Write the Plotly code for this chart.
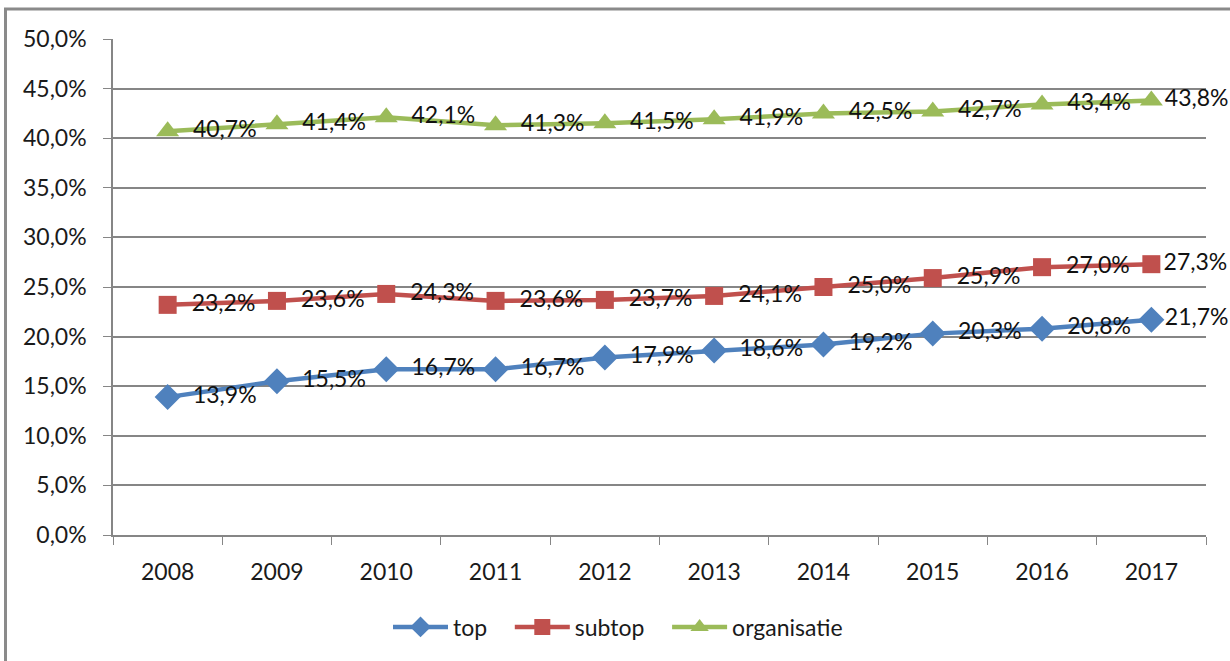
import plotly.graph_objects as go

years = ["2008", "2009", "2010", "2011", "2012", "2013", "2014", "2015", "2016", "2017"]
top = [0.139, 0.155, 0.167, 0.167, 0.179, 0.186, 0.192, 0.203, 0.208, 0.217]
subtop = [0.232, 0.236, 0.243, 0.236, 0.237, 0.241, 0.250, 0.259, 0.270, 0.273]
organisatie = [0.407, 0.414, 0.421, 0.413, 0.415, 0.419, 0.425, 0.427, 0.434, 0.438]

W, H = 1230, 661
L, R, T, B = 113, 1206, 39, 535

FONT = "Lato, 'Open Sans', sans-serif"
GAP = "\u00a0\u00a0"

fig = go.Figure()
series = [
    ("top", top, "#4F81BD", "diamond", 20),
    ("subtop", subtop, "#C0504D", "square", 18),
    ("organisatie", organisatie, "#9BBB59", "triangle-up", 20),
]
for name, vals, col, sym, sz in series:
    templates = [GAP + "%{y:.1%}"] * (len(vals) - 1) + ["%{y:.1%}"]
    fig.add_trace(go.Scatter(
        x=years, y=vals, name=name + "\u00a0\u00a0\u00a0", mode="lines+markers+text",
        line=dict(color=col, width=4.5),
        marker=dict(symbol=sym, size=sz, color=col),
        texttemplate=templates, textposition="middle right",
        textfont=dict(family=FONT, size=23, color="#111111"),
        cliponaxis=False,
    ))

def px(x):
    return (x - L) / (R - L)

def py(y):
    return (B - y) / (B - T)

fig.update_layout(
    width=W, height=H,
    margin=dict(l=L, r=W - R, t=T, b=H - B),
    paper_bgcolor="white", plot_bgcolor="white",
    separators=",.",
    font=dict(family=FONT, size=23, color="#1a1a1a"),
    showlegend=True,
    legend=dict(orientation="h", x=px(388), xanchor="left", y=py(627), yanchor="middle",
                font=dict(size=23), tracegroupgap=0, itemwidth=55),
    xaxis=dict(type="category", range=[-0.5, 9.5], showgrid=False,
               showline=True, linecolor="#868686", linewidth=1.5,
               ticks="outside", tickson="boundaries", ticklen=8, tickcolor="#868686",
               tickfont=dict(size=23), ticklabelstandoff=16),
    yaxis=dict(range=[0, 0.5], dtick=0.05, tickformat=".1%",
               showgrid=True, gridcolor="#868686", gridwidth=1.5,
               showline=True, linecolor="#868686", linewidth=1.5,
               ticks="outside", ticklen=8, tickcolor="#868686",
               zeroline=False, tickfont=dict(size=23), ticklabelstandoff=12),
)

fig.add_shape(type="line", xref="paper", yref="paper",
              x0=px(4), x1=px(1240), y0=py(9), y1=py(9),
              line=dict(color="#8a8a8a", width=3))
fig.add_shape(type="line", xref="paper", yref="paper",
              x0=px(5.5), x1=px(5.5), y0=py(9), y1=py(670),
              line=dict(color="#8a8a8a", width=3))

fig.write_html("out.html", config={"displayModeBar": False},
               post_script="document.body.style.margin='0';")
